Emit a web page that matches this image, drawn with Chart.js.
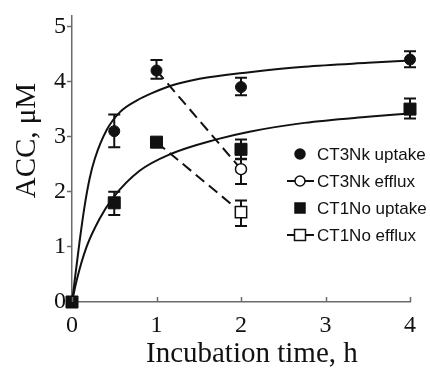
<!DOCTYPE html>
<html>
<head>
<meta charset="utf-8">
<script src="https://cdn.jsdelivr.net/npm/chart.js@4/dist/chart.umd.min.js"></script>
<style>
  html, body { margin: 0; padding: 0; background: #fff; }
</style>
</head>
<body>
<canvas id="accChart" width="430" height="369"></canvas>
<script>
// measured points (h, µM)
const sampleTimes = [0, 0.5, 1, 2, 4];
const ct3nkUptake = [0, 3.1, 4.2, 3.9, 4.4];
const ct3nkUptakeLow = [0, 2.81, 4.05, 3.75, 4.26];
const ct3nkUptakeHigh = [0, 3.4, 4.39, 4.07, 4.55];
const ct1noUptake = [0, 1.8, 2.9, 2.77, 3.5];
const ct1noUptakeLow = [0, 1.58, 2.9, 2.59, 3.33];
const ct1noUptakeHigh = [0, 2.0, 2.9, 2.95, 3.69];

const effluxTimes = [1, 2];
const ct3nkEfflux = [4.2, 2.41];
const ct3nkEffluxLow = [4.2, 2.14];
const ct3nkEffluxHigh = [4.2, 2.6];
const ct1noEfflux = [2.9, 1.63];
const ct1noEffluxLow = [2.9, 1.38];
const ct1noEffluxHigh = [2.9, 1.84];

// fitted uptake curves
const fitTimesA = [0, 0.09, 0.15, 0.21, 0.27, 0.41, 0.57, 0.77, 0.96, 1.16, 1.51, 2.1, 2.75, 3.5, 4];
const ct3nkFit = [0, 1.1, 1.75, 2.25, 2.6, 3.12, 3.45, 3.66, 3.8, 3.92, 4.05, 4.17, 4.27, 4.34, 4.38];
const fitTimesB = [0, 0.055, 0.17, 0.33, 0.49, 0.8, 1.16, 1.71, 2.1, 2.75, 3.5, 4];
const ct1noFit = [0, 0.39, 0.99, 1.52, 1.9, 2.38, 2.68, 2.95, 3.09, 3.25, 3.36, 3.42];

const xTicks = [0, 1, 2, 3, 4];
const yTicks = [0, 1, 2, 3, 4, 5];
const seriesNames = ['CT3Nk uptake', 'CT3Nk efflux', 'CT1No uptake', 'CT1No efflux'];

function pts(xs, ys) {
    return xs.map((x, i) => ({ x: x, y: ys[i] }));
}

const serif = "'Liberation Serif', 'Times New Roman', serif";
const sans = "'Liberation Sans', Arial, sans-serif";
const axisGrey = '#6a6a6a';

// error bars go under the markers
const errorBars = {
    id: 'errorBars',
    beforeDatasetsDraw(chart) {
        const ctx = chart.ctx;
        const xs = chart.scales.x, ys = chart.scales.y;
        ctx.save();
        ctx.strokeStyle = '#111';
        ctx.lineWidth = 2;
        chart.data.datasets.forEach(ds => {
            if (!ds.errLow) return;
            ds.data.forEach((p, i) => {
                const lo = ds.errLow[i], hi = ds.errHigh[i];
                if (hi - lo < 0.01) return;
                const px = xs.getPixelForValue(p.x);
                const y1 = ys.getPixelForValue(lo), y2 = ys.getPixelForValue(hi);
                ctx.beginPath();
                ctx.moveTo(px, y1); ctx.lineTo(px, y2);
                ctx.moveTo(px - 6, y1); ctx.lineTo(px + 6, y1);
                ctx.moveTo(px - 6, y2); ctx.lineTo(px + 6, y2);
                ctx.stroke();
            });
        });
        ctx.restore();
    }
};

// inward x ticks
const xInTicks = {
    id: 'xInTicks',
    afterDraw(chart) {
        const ctx = chart.ctx;
        const xs = chart.scales.x;
        const yb = chart.chartArea.bottom;
        ctx.save();
        ctx.strokeStyle = axisGrey;
        ctx.lineWidth = 1.5;
        xTicks.forEach(v => {
            const px = Math.round(xs.getPixelForValue(v)) + 0.5;
            ctx.beginPath();
            ctx.moveTo(px, yb);
            ctx.lineTo(px, yb - 5);
            ctx.stroke();
        });
        ctx.restore();
    }
};

// legend sitting inside the plot, right side
const insideLegend = {
    id: 'insideLegend',
    afterDraw(chart) {
        const ctx = chart.ctx;
        const dsIdx = [0, 2, 1, 3];
        const symX = 300, textX = 317, top = 154, step = 27;
        ctx.save();
        ctx.font = '17px ' + sans;
        ctx.textBaseline = 'middle';
        dsIdx.forEach((k, row) => {
            const ds = chart.data.datasets[k];
            const y = top + row * step;
            if (ds.showLine) {
                ctx.strokeStyle = '#111';
                ctx.lineWidth = 2;
                ctx.beginPath();
                ctx.moveTo(symX - 13, y); ctx.lineTo(symX + 14, y);
                ctx.stroke();
            }
            ctx.lineWidth = 1.5;
            ctx.fillStyle = ds.pointBackgroundColor;
            ctx.strokeStyle = '#111';
            const r = ds.legendRadius;
            ctx.beginPath();
            if (ds.pointStyle === 'circle') {
                ctx.arc(symX, y, r, 0, Math.PI * 2);
            } else {
                ctx.rect(symX - r, y - r, 2 * r, 2 * r);
            }
            ctx.fill();
            ctx.stroke();
            ctx.fillStyle = '#111';
            ctx.fillText(seriesNames[row], textX, y + 1);
        });
        ctx.restore();
    }
};

new Chart(document.getElementById('accChart'), {
    type: 'scatter',
    data: {
        datasets: [
            {
                label: seriesNames[0],
                data: pts(sampleTimes, ct3nkUptake),
                errLow: ct3nkUptakeLow, errHigh: ct3nkUptakeHigh,
                showLine: false,
                pointStyle: 'circle', pointRadius: 5.5,
                pointBackgroundColor: '#111', pointBorderColor: '#111',
                legendRadius: 5
            },
            {
                label: seriesNames[2],
                data: pts(sampleTimes, ct1noUptake),
                errLow: ct1noUptakeLow, errHigh: ct1noUptakeHigh,
                showLine: false,
                pointStyle: 'rect', pointRadius: 8.5,
                pointBackgroundColor: '#111', pointBorderColor: '#111',
                legendRadius: 5
            },
            {
                label: seriesNames[1],
                data: pts(effluxTimes, ct3nkEfflux),
                errLow: ct3nkEffluxLow, errHigh: ct3nkEffluxHigh,
                showLine: true,
                borderColor: '#111', borderWidth: 2, borderDash: [11, 6],
                pointStyle: 'circle', pointRadius: [0, 5.5], pointBorderWidth: 1.5,
                pointBackgroundColor: '#fff', pointBorderColor: '#111',
                legendRadius: 5
            },
            {
                label: seriesNames[3],
                data: pts(effluxTimes, ct1noEfflux),
                errLow: ct1noEffluxLow, errHigh: ct1noEffluxHigh,
                showLine: true,
                borderColor: '#111', borderWidth: 2, borderDash: [11, 6],
                pointStyle: 'rect', pointRadius: [0, 8], pointBorderWidth: 1.5,
                pointBackgroundColor: '#fff', pointBorderColor: '#111',
                legendRadius: 5.5
            },
            {
                label: 'fit A',
                data: pts(fitTimesA, ct3nkFit),
                showLine: true, pointRadius: 0,
                borderColor: '#111', borderWidth: 2,
                cubicInterpolationMode: 'monotone'
            },
            {
                label: 'fit B',
                data: pts(fitTimesB, ct1noFit),
                showLine: true, pointRadius: 0,
                borderColor: '#111', borderWidth: 2,
                cubicInterpolationMode: 'monotone'
            }
        ]
    },
    options: {
        responsive: false,
        animation: false,
        clip: false,
        layout: { padding: { top: 12, right: 20, bottom: 0, left: 0 } },
        plugins: {
            legend: { display: false },
            tooltip: { enabled: false }
        },
        scales: {
            x: {
                type: 'linear',
                min: 0, max: 4,
                afterBuildTicks: s => { s.ticks = xTicks.map(v => ({ value: v })); },
                afterFit: s => { s.height = 67; },
                border: { display: true, color: axisGrey, width: 1.5 },
                grid: { display: false, drawTicks: false },
                ticks: {
                    color: '#111', padding: 9,
                    font: { family: serif, size: 24 }
                },
                title: {
                    display: true, text: '   Incubation time, h', color: '#111',
                    font: { family: serif, size: 29, lineHeight: 1 },
                    padding: { top: 0, bottom: 0 }
                }
            },
            y: {
                type: 'linear',
                min: 0, max: 5.2,
                afterBuildTicks: s => { s.ticks = yTicks.map(v => ({ value: v })); },
                afterFit: s => { s.width = 72; },
                border: { display: true, color: axisGrey, width: 1.5 },
                grid: { drawOnChartArea: false, drawTicks: true, tickLength: 5, tickColor: axisGrey, tickWidth: 1.5 },
                ticks: {
                    color: '#111', padding: 1,
                    font: { family: serif, size: 24 }
                },
                title: {
                    display: true, text: '     ACC, μM', color: '#111',
                    font: { family: serif, size: 29, lineHeight: 1 },
                    padding: { top: 13, bottom: 0 }
                }
            }
        }
    },
    plugins: [errorBars, xInTicks, insideLegend]
});
</script>
</body>
</html>
